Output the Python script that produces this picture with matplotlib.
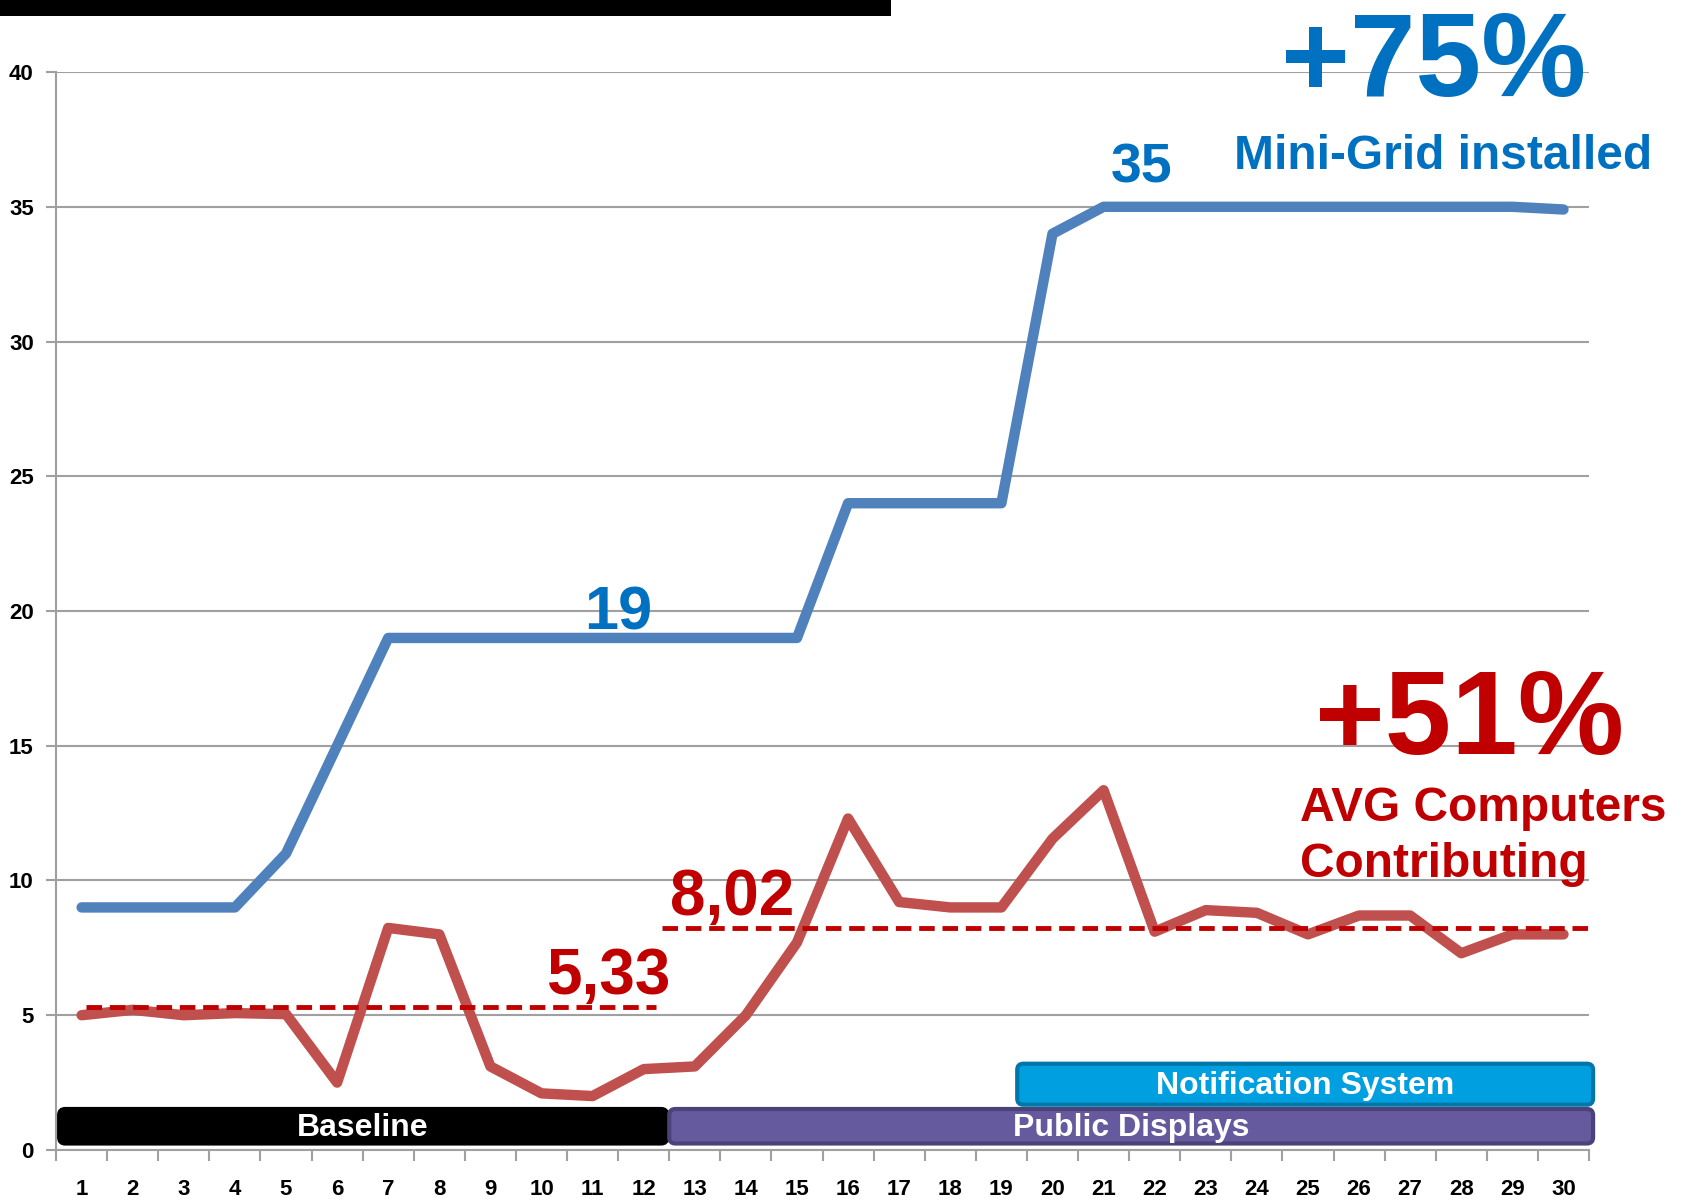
import matplotlib.pyplot as plt
from matplotlib.patches import FancyBboxPatch, Rectangle

# data
days = list(range(1, 31))
mini_grid = [9, 9, 9, 9, 11, 15, 19, 19, 19, 19, 19, 19, 19, 19, 19,
             24, 24, 24, 24, 34, 35, 35, 35, 35, 35, 35, 35, 35, 35, 34.9]
computers = [5.0, 5.2, 5.0, 5.08, 5.04, 2.5, 8.24, 8.0, 3.1, 2.1, 2.0, 3.0, 3.1, 5.0, 7.7,
             12.3, 9.2, 9.0, 9.0, 11.55, 13.35, 8.1, 8.9, 8.8, 8.0, 8.7, 8.7, 7.3, 8.0, 8.0]
avg_labels = ["5,33", "8,02"]
avg_levels = [5.3, 8.24]
avg_spans = [(1.08, 12.25), (12.36, 30.5)]
phases = ["Baseline", "Public Displays", "Notification System"]
phase_spans = [(0.56, 12.46), (12.5, 30.58), (19.31, 30.58)]
phase_rows = [(0.24, 1.52), (0.24, 1.52), (1.68, 3.2)]

plt.rcParams['font.family'] = ['Liberation Sans', 'DejaVu Sans']

BLUE_LINE = '#4F81BD'
RED_LINE = '#C0504D'
BLUE_TXT = '#0070C0'
RED_TXT = '#C00000'

fig = plt.figure(figsize=(16.89, 12.01), dpi=100)
ax = fig.add_axes([0.0332, 0.0425, 0.9076, 0.8975])

ax.plot(days, mini_grid, color=BLUE_LINE, lw=7.5, solid_capstyle='round', solid_joinstyle='round', zorder=4)
ax.plot(days, computers, color=RED_LINE, lw=7.5, solid_capstyle='round', solid_joinstyle='round', zorder=4)

for lvl, (x0, x1) in zip(avg_levels, avg_spans):
    ax.plot([x0, x1], [lvl, lvl], color=RED_TXT, lw=3.5, ls=(0, (3.2, 1.6)), zorder=5)

ax.set_xlim(0.5, 30.5)
ax.set_ylim(0, 40)
ax.set_yticks(range(0, 41, 5))
ax.set_xticks(days)
ax.set_xticks([d + 0.5 for d in range(0, 31)], minor=True)
ax.tick_params(axis='x', which='major', length=0, pad=21)
ax.tick_params(axis='x', which='minor', length=8, color='#A0A0A0', width=1.5, direction='out')
ax.tick_params(axis='y', length=7, color='#A0A0A0', width=1.5, pad=9)
for lab in ax.get_xticklabels() + ax.get_yticklabels():
    lab.set_fontweight('bold')
    lab.set_fontsize(16)
ax.grid(axis='y', color='#A0A0A0', lw=1.5, zorder=0)
ax.set_axisbelow(True)
for s in ['top', 'right']:
    ax.spines[s].set_visible(False)
for s in ['left', 'bottom']:
    ax.spines[s].set_color('#A0A0A0')
    ax.spines[s].set_linewidth(1.5)

# phase bars
fills = ['#000000', '#665A9E', '#009FE0']
edges = ['#000000', '#4A4278', '#0077A8']
for name, (x0, x1), (y0, y1), fc, ec in zip(phases, phase_spans, phase_rows, fills, edges):
    box = FancyBboxPatch((x0, y0), x1 - x0, y1 - y0,
                         boxstyle='round,pad=0,rounding_size=0.12', mutation_aspect=1.9,
                         fc=fc, ec=ec, lw=3, zorder=6, clip_on=False)
    ax.add_patch(box)
    ax.text((x0 + x1) / 2, (y0 + y1) / 2 - 0.05, name, color='white', fontsize=23,
            fontweight='bold', ha='center', va='center', zorder=7)

# annotations
ax.text(11.5, 19.3, '19', color=BLUE_TXT, fontsize=44, fontweight='bold', ha='center', va='baseline')
ax.text(21.74, 35.9, '35', color=BLUE_TXT, fontsize=40, fontweight='bold', ha='center', va='baseline')
ax.text(27.45, 39.1, '+75%', color=BLUE_TXT, fontsize=85, fontweight='bold', ha='center', va='baseline')
ax.text(27.64, 36.4, 'Mini-Grid installed', color=BLUE_TXT, fontsize=34.5, fontweight='bold',
        ha='center', va='baseline')
ax.text(28.17, 14.7, '+51%', color=RED_TXT, fontsize=86, fontweight='bold', ha='center', va='baseline')
ax.text(24.84, 12.2, 'AVG Computers', color=RED_TXT, fontsize=34.5, fontweight='bold', ha='left', va='baseline')
ax.text(24.84, 10.12, 'Contributing', color=RED_TXT, fontsize=34.5, fontweight='bold', ha='left', va='baseline')
ax.text(11.3, 5.8, avg_labels[0], color=RED_TXT, fontsize=46, fontweight='bold', ha='center', va='baseline')
ax.text(13.73, 8.72, avg_labels[1], color=RED_TXT, fontsize=46, fontweight='bold', ha='center', va='baseline')

# black bar across the top
fig.patches.append(Rectangle((0, 1 - 16 / 1201), 891 / 1689, 16 / 1201, transform=fig.transFigure,
                             fc='black', ec='none'))

fig.savefig('out.png', dpi=100)
